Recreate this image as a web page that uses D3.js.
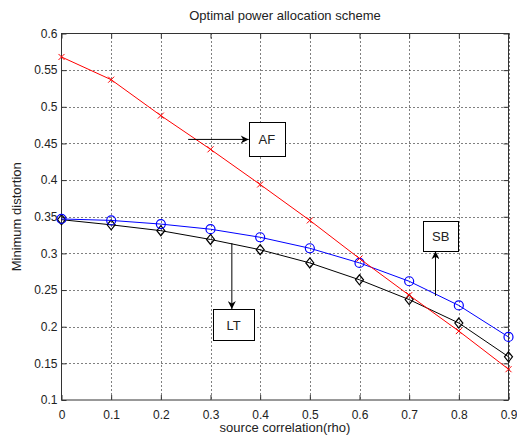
<html>
  <head>
    <style>
    body {
      margin: 0;
      background: #fff;
    }
    text {
      font-family: "Liberation Sans", Arial, sans-serif;
      fill: #222;
    }
    .grid line {
      stroke: #000;
      stroke-dasharray: 1,3;
    }
    </style>
  </head>
  <body>
    <script src="https://cdnjs.cloudflare.com/ajax/libs/d3/7.8.5/d3.min.js"></script>
    <script>
    var width = 517,
      height = 437;

    // data
    var rho = [0, 0.1, 0.2, 0.3, 0.4, 0.5, 0.6, 0.7, 0.8, 0.9];
    var af = [0.568, 0.537, 0.488, 0.442, 0.394, 0.345, 0.293, 0.243, 0.194, 0.142];
    var sb = [0.347, 0.345, 0.340, 0.333, 0.322, 0.307, 0.287, 0.262, 0.229, 0.186];
    var lt = [0.346, 0.339, 0.331, 0.319, 0.305, 0.287, 0.264, 0.237, 0.205, 0.159];
    var xTicks = [0, 0.1, 0.2, 0.3, 0.4, 0.5, 0.6, 0.7, 0.8, 0.9];
    var yTicks = [0.1, 0.15, 0.2, 0.25, 0.3, 0.35, 0.4, 0.45, 0.5, 0.55, 0.6];

    // text boxes with arrows, in data units
    var notes = [
      {label: "AF", box: [0.377, 0.450, 0.479, 0.432], from: [0.255, 0.4555], to: [0.377, 0.4555]},
      {label: "LT", box: [0.305, 0.388, 0.224, 0.182], from: [0.343, 0.314], to: [0.343, 0.224]},
      {label: "SB", box: [0.728, 0.799, 0.344, 0.303], from: [0.753, 0.242], to: [0.753, 0.303]}
    ];

    var margin = {top: 33.5, right: 8.5, bottom: 37, left: 61.5};

    var svg = d3.select("body").append("svg")
        .attr("width", width)
        .attr("height", height);

    var defs = svg.append("defs");
    defs.append("marker")
        .attr("id", "head")
        .attr("viewBox", "0 0 10 10")
        .attr("refX", 10)
        .attr("refY", 5)
        .attr("markerWidth", 10)
        .attr("markerHeight", 8)
        .attr("markerUnits", "userSpaceOnUse")
        .attr("orient", "auto")
      .append("path")
        .attr("d", "M0,0 L10,5 L0,10 L3,5 Z")
        .attr("fill", "#000");

    var x = d3.scaleLinear().domain([0, 0.9]).range([margin.left, width - margin.right]);
    var y = d3.scaleLinear().domain([0.1, 0.6]).range([height - margin.bottom, margin.top]);

    // grid
    var grid = svg.append("g").attr("class", "grid");
    grid.selectAll(".gx").data(xTicks.slice(1)).enter().append("line")
        .attr("x1", function(d){ return Math.round(x(d)) + 0.5; })
        .attr("x2", function(d){ return Math.round(x(d)) + 0.5; })
        .attr("y1", y(0.6)).attr("y2", y(0.1));
    grid.selectAll(".gy").data(yTicks.slice(1, -1)).enter().append("line")
        .attr("y1", function(d){ return Math.round(y(d)) + 0.5; })
        .attr("y2", function(d){ return Math.round(y(d)) + 0.5; })
        .attr("x1", x(0)).attr("x2", x(0.9));

    // axes, matlab style ticks inside
    function styleAxis(g){
      g.select(".domain").remove();
      g.selectAll("line").attr("stroke", "#333");
      g.selectAll("text").style("font-size", "12px").attr("fill", "#333");
    }
    var fmt = function(d){ return d3.format("")(+d.toFixed(2)); };
    svg.append("g").attr("transform", "translate(0," + y(0.1) + ")")
        .call(d3.axisBottom(x).tickValues(xTicks).tickFormat(fmt).tickSizeInner(-5).tickSizeOuter(0).tickPadding(10))
        .call(styleAxis);
    svg.append("g").attr("transform", "translate(0," + y(0.6) + ")")
        .call(d3.axisTop(x).tickValues(xTicks).tickFormat("").tickSizeInner(-5).tickSizeOuter(0))
        .call(styleAxis);
    svg.append("g").attr("transform", "translate(" + x(0) + ",0)")
        .call(d3.axisLeft(y).tickValues(yTicks).tickFormat(fmt).tickSizeInner(-5).tickSizeOuter(0).tickPadding(4))
        .call(styleAxis);
    svg.append("g").attr("transform", "translate(" + x(0.9) + ",0)")
        .call(d3.axisRight(y).tickValues(yTicks).tickFormat("").tickSizeInner(-5).tickSizeOuter(0))
        .call(styleAxis);

    svg.append("rect")
        .attr("x", x(0)).attr("y", y(0.6))
        .attr("width", x(0.9) - x(0)).attr("height", y(0.1) - y(0.6))
        .attr("fill", "none").attr("stroke", "#333");

    // series
    var line = d3.line()
        .x(function(d){ return x(d[0]); })
        .y(function(d){ return y(d[1]); });

    function series(vals, color, marker){
      var pts = rho.map(function(r, i){ return [r, vals[i]]; });
      svg.append("path")
          .datum(pts)
          .attr("d", line)
          .attr("fill", "none")
          .attr("stroke", color)
          .attr("stroke-width", 1);
      var g = svg.append("g");
      pts.forEach(function(p){
        var cx = x(p[0]), cy = y(p[1]);
        if (marker == "x") {
          g.append("path")
              .attr("d", "M" + (cx - 3) + "," + (cy - 3) + "L" + (cx + 3) + "," + (cy + 3) +
                        "M" + (cx - 3) + "," + (cy + 3) + "L" + (cx + 3) + "," + (cy - 3))
              .attr("stroke", color).attr("fill", "none");
        } else if (marker == "o") {
          g.append("circle")
              .attr("cx", cx).attr("cy", cy).attr("r", 4.5)
              .attr("stroke", color).attr("fill", "none").attr("stroke-width", 1.2);
        } else {
          g.append("path")
              .attr("d", "M" + cx + "," + (cy - 5) + "L" + (cx + 4) + "," + cy +
                        "L" + cx + "," + (cy + 5) + "L" + (cx - 4) + "," + cy + "Z")
              .attr("stroke", color).attr("fill", "none").attr("stroke-width", 1.2);
        }
      });
    }

    series(lt, "#000", "d");
    series(sb, "#00f", "o");
    series(af, "#f00", "x");

    // annotations
    notes.forEach(function(n){
      svg.append("line")
          .attr("x1", x(n.from[0])).attr("y1", y(n.from[1]))
          .attr("x2", x(n.to[0])).attr("y2", y(n.to[1]))
          .attr("stroke", "#000")
          .attr("marker-end", "url(#head)");
      var bx = x(n.box[0]), by = y(n.box[2]);
      var bw = x(n.box[1]) - bx, bh = y(n.box[3]) - by;
      svg.append("rect")
          .attr("x", Math.round(bx) + 0.5).attr("y", Math.round(by) + 0.5)
          .attr("width", Math.round(bw)).attr("height", Math.round(bh))
          .attr("fill", "#fff").attr("stroke", "#000");
      svg.append("text")
          .attr("x", bx + bw / 2).attr("y", by + bh / 2 + 5)
          .attr("text-anchor", "middle")
          .style("font-size", "13px")
          .text(n.label);
    });

    // titles
    svg.append("text")
        .attr("x", (x(0) + x(0.9)) / 2).attr("y", 20)
        .attr("text-anchor", "middle")
        .style("font-size", "13px")
        .text("Optimal power allocation scheme");
    svg.append("text")
        .attr("x", (x(0) + x(0.9)) / 2).attr("y", 432)
        .attr("text-anchor", "middle")
        .style("font-size", "13px")
        .text("source correlation(rho)");
    svg.append("text")
        .attr("transform", "translate(21," + (y(0.1) + y(0.6)) / 2 + ") rotate(-90)")
        .attr("text-anchor", "middle")
        .style("font-size", "13px")
        .text("Minimum distortion");
    </script>
  </body>
</html>
